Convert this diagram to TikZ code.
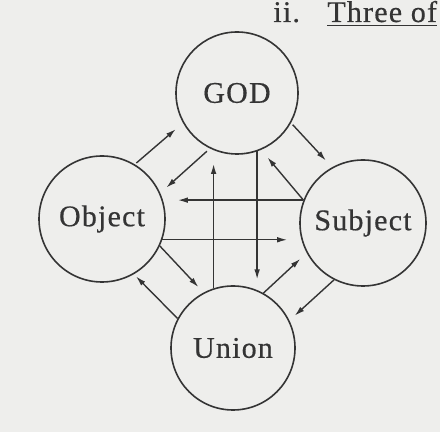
\documentclass[tikz,border=0pt]{standalone}
\usepackage{fontspec}
\setmainfont{Liberation Serif}
\newfontfamily\realmfont{Liberation Serif}[LetterSpace=4,FakeBold=0.5]
\usepackage{tikz}
\usetikzlibrary{calc,arrows.meta}
\definecolor{ScanPaper}{RGB}{238,238,236}
\definecolor{ScanInk}{RGB}{52,52,52}

\tikzset{
  realm/.style={circle,draw=ScanInk,line width=0.8pt,text=ScanInk,inner sep=0pt,
    font=\realmfont\fontsize{15}{18}\selectfont},
  flow/.style={ScanInk,line width=0.7pt,-{Latex[length=5pt,width=2.8pt]}},
}

\begin{document}
\begin{tikzpicture}[x=0.5pt,y=-0.5pt]
        \fill[ScanPaper] (0,0) rectangle (440,432);
        \useasboundingbox (0,0) rectangle (440,432);
        \clip (0,0) rectangle (440,432);

        % heading of the page, cut at the right edge
        \node[anchor=base west,inner sep=0pt,text=ScanInk,font=\realmfont\fontsize{15}{18}\selectfont] (numeral) at (273,22) {ii.};
        \node[anchor=base west,inner sep=0pt,text=ScanInk,font=\realmfont\fontsize{15}{18}\selectfont] (heading) at (327,22) {\underline{Three of}};

        \node[realm,minimum size=61pt] (god) at (237,93) {GOD};
        \node[realm,minimum size=63pt] (obj) at (102,219) {Object};
        \node[realm,minimum size=63pt] (subj) at (363,223) {Subject};
        \node[realm,minimum size=62pt] (union) at (233,348) {Union};

        % upper pairs
        \draw[flow,shorten <=1pt,shorten >=4.7pt] (obj.59.5) -- (god.209.8);
        \draw[flow,shorten <=2pt,shorten >=4pt] (god.244.6) -- (obj.24);
        \draw[flow,shorten <=1.2pt,shorten >=4.5pt] (god.331.8) -- (subj.119);
        \draw[flow,shorten >=4.9pt] (subj.159) -- (god.293.3);

        % across the middle
        \draw[flow,shorten >=6pt] (subj.159) -- (subj.159 -| obj.east);
        \draw[flow,shorten >=6pt] (obj.341) -- (obj.341 -| subj.west);
        \draw[flow,shorten >=7pt] (union.108.8) -- (union.108.8 |- god.247);
        \draw[flow,shorten >=5.4pt] (god.289.1) -- (god.289.1 |- union.67.2);

        % lower pairs
        \draw[flow,shorten >=3.7pt] (obj.335) -- (union.118.4);
        \draw[flow,shorten >=1.5pt] (union.152.6) -- (obj.300.5);
        \draw[flow,shorten >=4.3pt] (union.61.9) -- (subj.208.4);
        \draw[flow,shorten >=3.5pt] (subj.243.4) -- (union.26.6);
      \end{tikzpicture}
\end{document}
